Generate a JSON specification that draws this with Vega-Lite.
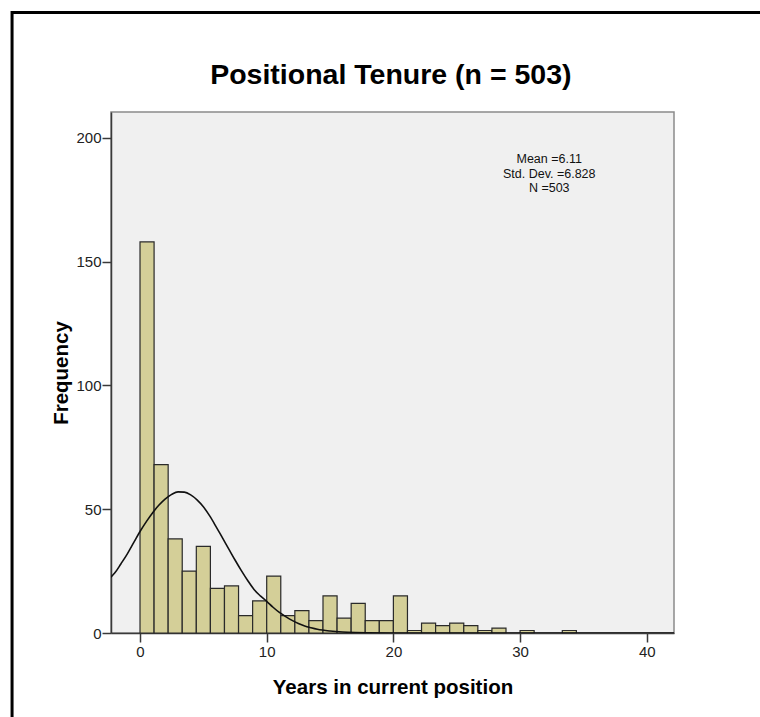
{
  "$schema": "https://vega.github.io/schema/vega-lite/v6.json",
  "autosize": {"type": "none"},
  "width": 563,
  "height": 521,
  "padding": {"left": 111, "top": 112, "right": 86, "bottom": 84},
  "background": "white",
  "config": {
    "view": {"fill": "#f0f0f0", "stroke": "#8a8a8a", "strokeWidth": 1.5},
    "axis": {
      "grid": false,
      "domainColor": "#3a3a3a",
      "domainWidth": 1.5,
      "tickColor": "#3a3a3a",
      "tickWidth": 1.5,
      "tickSize": 9,
      "labelFont": "Liberation Sans",
      "labelFontSize": 15,
      "labelColor": "#222222",
      "titleFont": "Liberation Sans",
      "titleFontSize": 20.5,
      "titleFontWeight": "bold",
      "titleColor": "#000000"
    }
  },
  "datasets": {
    "bins": [
      {"start": 0.0, "end": 1.111, "count": 158},
      {"start": 1.111, "end": 2.222, "count": 68},
      {"start": 2.222, "end": 3.333, "count": 38},
      {"start": 3.333, "end": 4.444, "count": 25},
      {"start": 4.444, "end": 5.556, "count": 35},
      {"start": 5.556, "end": 6.667, "count": 18},
      {"start": 6.667, "end": 7.778, "count": 19},
      {"start": 7.778, "end": 8.889, "count": 7},
      {"start": 8.889, "end": 10.0, "count": 13},
      {"start": 10.0, "end": 11.111, "count": 23},
      {"start": 11.111, "end": 12.222, "count": 7},
      {"start": 12.222, "end": 13.333, "count": 9},
      {"start": 13.333, "end": 14.444, "count": 5},
      {"start": 14.444, "end": 15.556, "count": 15},
      {"start": 15.556, "end": 16.667, "count": 6},
      {"start": 16.667, "end": 17.778, "count": 12},
      {"start": 17.778, "end": 18.889, "count": 5},
      {"start": 18.889, "end": 20.0, "count": 5},
      {"start": 20.0, "end": 21.111, "count": 15},
      {"start": 21.111, "end": 22.222, "count": 1},
      {"start": 22.222, "end": 23.333, "count": 4},
      {"start": 23.333, "end": 24.444, "count": 3},
      {"start": 24.444, "end": 25.556, "count": 4},
      {"start": 25.556, "end": 26.667, "count": 3},
      {"start": 26.667, "end": 27.778, "count": 1},
      {"start": 27.778, "end": 28.889, "count": 2},
      {"start": 30.0, "end": 31.111, "count": 1},
      {"start": 33.333, "end": 34.444, "count": 1}
    ],
    "curve": [
      {"x": -2.3, "y": 22.5},
      {"x": -2.0, "y": 24.2},
      {"x": -1.5, "y": 28.0},
      {"x": -1.0, "y": 32.0},
      {"x": -0.5, "y": 36.5},
      {"x": 0.0, "y": 41.0},
      {"x": 0.5, "y": 45.0},
      {"x": 1.0, "y": 48.6},
      {"x": 1.5, "y": 51.7},
      {"x": 2.0, "y": 54.2},
      {"x": 2.5, "y": 56.0},
      {"x": 3.0, "y": 57.0},
      {"x": 3.5, "y": 56.9},
      {"x": 4.0, "y": 55.8},
      {"x": 4.5, "y": 53.8},
      {"x": 5.0, "y": 51.0},
      {"x": 5.5, "y": 47.3},
      {"x": 6.0, "y": 43.0},
      {"x": 6.5, "y": 38.5},
      {"x": 7.0, "y": 34.0},
      {"x": 7.5, "y": 29.5},
      {"x": 8.0, "y": 25.2},
      {"x": 8.5, "y": 21.2},
      {"x": 9.0, "y": 17.6},
      {"x": 9.5, "y": 15.0},
      {"x": 10.0, "y": 12.8},
      {"x": 10.5, "y": 10.4},
      {"x": 11.0, "y": 8.3},
      {"x": 11.5, "y": 6.6},
      {"x": 12.0, "y": 5.1},
      {"x": 12.5, "y": 3.8},
      {"x": 13.0, "y": 2.8},
      {"x": 13.5, "y": 2.1},
      {"x": 14.0, "y": 1.5},
      {"x": 15.0, "y": 0.8},
      {"x": 16.0, "y": 0.4},
      {"x": 17.0, "y": 0.2},
      {"x": 18.0, "y": 0.1},
      {"x": 20.0, "y": 0.02},
      {"x": 25.0, "y": 0.0},
      {"x": 30.0, "y": 0.0},
      {"x": 35.0, "y": 0.0},
      {"x": 42.2, "y": 0.0}
    ],
    "stats": [
      {"line": "Mean =6.11", "x": 32.3, "y": 191.5},
      {"line": "Std. Dev. =6.828", "x": 32.3, "y": 185.6},
      {"line": "N =503", "x": 32.3, "y": 179.7}
    ],
    "heading": [
      {"label": "Positional Tenure (n = 503)", "x": 19.8, "y": 221.7}
    ]
  },
  "layer": [
    {
      "data": {"values": [{}]},
      "mark": {"type": "rect", "fill": null, "stroke": "#000000", "strokeWidth": 3, "clip": false},
      "encoding": {
        "x": {"datum": -10.1, "type": "quantitative", "scale": {"domain": [-2.29, 42.15], "nice": false, "zero": false}},
        "x2": {"datum": 60},
        "y": {"datum": 250.7, "type": "quantitative", "scale": {"domain": [0, 210.5], "nice": false}},
        "y2": {"datum": -60}
      }
    },
    {
      "data": {"name": "bins"},
      "mark": {"type": "rect", "fill": "#d4cf98", "stroke": "#2a2a2a", "strokeWidth": 1.2},
      "encoding": {
        "x": {
          "field": "start",
          "type": "quantitative",
          "scale": {"domain": [-2.29, 42.15], "nice": false, "zero": false},
          "axis": {"values": [0, 10, 20, 30, 40], "title": "Years in current position", "titlePadding": 18, "labelPadding": 2}
        },
        "x2": {"field": "end"},
        "y": {
          "field": "count",
          "type": "quantitative",
          "scale": {"domain": [0, 210.5], "nice": false},
          "axis": {
            "values": [0, 50, 100, 150, 200],
            "title": "Frequency",
            "labelPadding": 1,
            "titleAngle": -90,
            "titleX": -44,
            "titleY": 260.5,
            "titleAlign": "center",
            "titleBaseline": "alphabetic"
          }
        },
        "y2": {"datum": 0}
      }
    },
    {
      "data": {"name": "curve"},
      "mark": {"type": "line", "color": "#111111", "strokeWidth": 1.6, "interpolate": "monotone", "clip": true},
      "encoding": {
        "x": {"field": "x", "type": "quantitative"},
        "y": {"field": "y", "type": "quantitative"}
      }
    },
    {
      "data": {"name": "stats"},
      "mark": {"type": "text", "font": "Liberation Sans", "fontSize": 12.5, "color": "#111111", "align": "center", "baseline": "middle"},
      "encoding": {
        "x": {"field": "x", "type": "quantitative"},
        "y": {"field": "y", "type": "quantitative"},
        "text": {"field": "line"}
      }
    },
    {
      "data": {"name": "heading"},
      "mark": {"type": "text", "font": "Liberation Sans", "fontSize": 28.5, "fontWeight": "bold", "color": "#000000", "align": "center", "baseline": "alphabetic", "clip": false},
      "encoding": {
        "x": {"field": "x", "type": "quantitative"},
        "y": {"field": "y", "type": "quantitative"},
        "text": {"field": "label"}
      }
    }
  ]
}
